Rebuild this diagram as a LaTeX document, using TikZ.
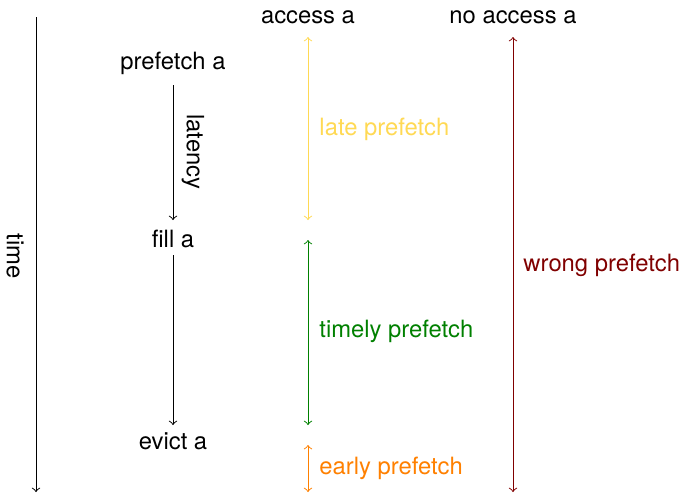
\documentclass[tikz,border=0pt]{standalone}
\usepackage{fontspec}
\setmainfont{TeX Gyre Heros}
\definecolor{lateC}{RGB}{255,217,84}
\definecolor{timelyC}{RGB}{0,128,0}
\definecolor{earlyC}{RGB}{255,128,0}
\definecolor{wrongC}{RGB}{128,0,0}
\begin{document}
\begin{tikzpicture}[x=0.42pt,y=-0.42pt,
    lbl/.style={inner sep=0pt,font=\fontsize{10}{12}\selectfont},
    span/.style={<->,line width=0.4pt},
    flow/.style={->,line width=0.4pt}]
  \useasboundingbox (0,0) rectangle (682,493);
  % time axis
  \coordinate (t0) at (36,17);
  \coordinate (t1) at (36,492);
  \draw[flow] (t0) -- (t1);
  \node[lbl,rotate=-90] (time) at (15,256) {time};
  % events of the prefetched line
  \node[lbl] (pf) at (173,63.5) {prefetch a};
  \node[lbl] (fill) at (173,238.5) {fill a};
  \node[lbl] (evict) at (173,441.5) {evict a};
  \coordinate (pfb) at (173,85);
  \coordinate (filla) at (173,220);
  \coordinate (fillb) at (173,255);
  \coordinate (evicta) at (173,425);
  \draw[flow] (pfb) -- (filla);
  \draw[flow] (fillb) -- (evicta);
  \node[lbl,rotate=-90] (lat) at (193,152) {latency};
  % column headers
  \node[lbl] (acc) at (308,17) {access a};
  \node[lbl] (noacc) at (513,17) {no access a};
  % classification spans
  \coordinate (l0) at (308,37);  \coordinate (l1) at (308,220);
  \coordinate (g0) at (308,240); \coordinate (g1) at (308,425);
  \coordinate (e0) at (308,445); \coordinate (e1) at (308,492);
  \coordinate (w0) at (513,37);  \coordinate (w1) at (513,492);
  \draw[span,lateC] (l0) -- (l1);
  \draw[span,timelyC] (g0) -- (g1);
  \draw[span,earlyC] (e0) -- (e1);
  \draw[span,wrongC] (w0) -- (w1);
  \node[lbl,anchor=west,text=lateC] (late) at (319,129.5) {late prefetch};
  \node[lbl,anchor=west,text=timelyC] (timely) at (319,331.5) {timely prefetch};
  \node[lbl,anchor=west,text=earlyC] (early) at (319,468.5) {early prefetch};
  \node[lbl,anchor=west,text=wrongC] (wrong) at (523,265.5) {wrong prefetch};
\end{tikzpicture}
\end{document}
